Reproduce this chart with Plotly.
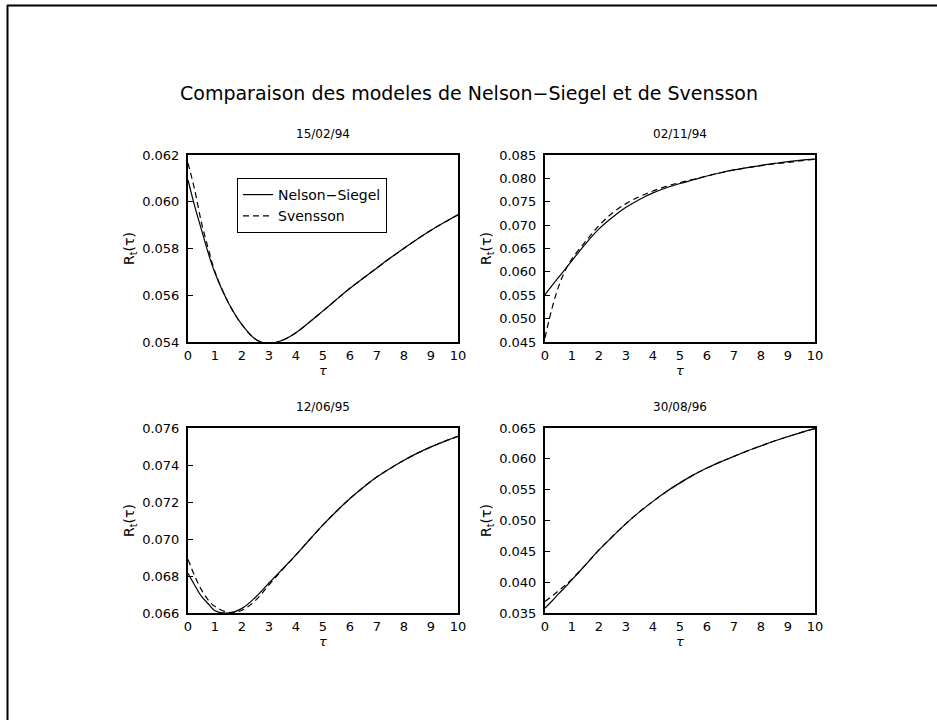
import plotly.graph_objects as go

# Maturity grid (years) at which both term-structure models are tabulated
TAU = [0, 0.25, 0.5, 0.75, 1, 1.5, 2, 2.5, 3, 3.5, 4, 4.5, 5, 5.5, 6,
       6.5, 7, 7.5, 8, 8.5, 9, 9.5, 10]

DATES = ["15/02/94", "02/11/94", "12/06/95", "30/08/96"]

# Nelson-Siegel fitted zero rates
NS_150294 = [0.06093, 0.0598, 0.0588, 0.0578, 0.05695, 0.05567, 0.05474, 0.05412,
             0.05393, 0.05408, 0.05440, 0.05485, 0.05533, 0.05582, 0.0563, 0.05674,
             0.05717, 0.0576, 0.05801, 0.05841, 0.05878, 0.05912, 0.05944]
NS_021194 = [0.0551, 0.0570, 0.0588, 0.0606, 0.0624, 0.0660, 0.0692, 0.0717,
             0.0738, 0.0755, 0.0769, 0.0780, 0.0789, 0.0797, 0.0805, 0.0812,
             0.0818, 0.0823, 0.0828, 0.0832, 0.0836, 0.0839, 0.0841]
NS_120695 = [0.06815, 0.0675, 0.0669, 0.0665, 0.06612, 0.06600, 0.06625, 0.06685,
             0.06762, 0.06838, 0.06914, 0.06996, 0.07076, 0.0715, 0.07219, 0.0728,
             0.07336, 0.07383, 0.07426, 0.07464, 0.07498, 0.07528, 0.07555]
NS_300896 = [0.0358, 0.0369, 0.0381, 0.0392, 0.0404, 0.0428, 0.04523, 0.0474,
             0.0495, 0.0514, 0.0531, 0.0547, 0.0561, 0.0574, 0.0585, 0.0595,
             0.0604, 0.0613, 0.0621, 0.0629, 0.0636, 0.0643, 0.0649]

# Svensson fitted zero rates
SV_150294 = [0.06165, 0.0605, 0.0591, 0.0580, 0.05700, 0.05567, 0.05474, 0.05412,
             0.05393, 0.05408, 0.05440, 0.05485, 0.05533, 0.05582, 0.0563, 0.05674,
             0.05717, 0.0576, 0.05801, 0.05841, 0.05878, 0.05912, 0.05944]
SV_021194 = [0.0459, 0.0520, 0.0568, 0.0603, 0.0628, 0.0665, 0.0699, 0.0726,
             0.0746, 0.0761, 0.0773, 0.0783, 0.0791, 0.0798, 0.0805, 0.0812,
             0.0818, 0.0823, 0.0827, 0.0831, 0.0834, 0.0838, 0.0841]
SV_120695 = [0.06890, 0.0680, 0.06725, 0.0667, 0.06635, 0.06603, 0.06615, 0.06668,
             0.06752, 0.06835, 0.06914, 0.06996, 0.07076, 0.0715, 0.07219, 0.0728,
             0.07336, 0.07383, 0.07426, 0.07464, 0.07498, 0.07528, 0.07555]
SV_300896 = [0.03688, 0.0377, 0.0386, 0.0395, 0.0405, 0.0428, 0.04523, 0.0474,
             0.0495, 0.0514, 0.0531, 0.0547, 0.0561, 0.0574, 0.0585, 0.0595,
             0.0604, 0.0613, 0.0621, 0.0629, 0.0636, 0.0643, 0.0649]

NS = [NS_150294, NS_021194, NS_120695, NS_300896]
SV = [SV_150294, SV_021194, SV_120695, SV_300896]

# y-axis ranges and tick steps per panel
Y_RANGES = [(0.054, 0.062), (0.045, 0.085), (0.066, 0.076), (0.035, 0.065)]
Y_STEPS = [0.002, 0.005, 0.002, 0.005]

W, H = 937, 720
FONT = "DejaVu Sans"

# panel boxes in pixels: (left, right, top, bottom)
BOXES = [(188, 458, 155, 342), (545, 815, 155, 342),
         (188, 458, 428, 613), (545, 815, 428, 613)]


def px_x(v):
    return v / W


def px_y(v):
    return 1 - v / H


fig = go.Figure()
layout = {}
annotations = []

for i in range(4):
    n = i + 1
    xa = "x" if n == 1 else f"x{n}"
    ya = "y" if n == 1 else f"y{n}"
    fig.add_trace(go.Scatter(
        x=TAU, y=NS[i], xaxis=xa, yaxis=ya, mode="lines",
        line=dict(color="black", width=1.2, shape="spline"),
        name="Nelson\u2212Siegel", showlegend=(i == 0), legendrank=1))
    fig.add_trace(go.Scatter(
        x=TAU, y=SV[i], xaxis=xa, yaxis=ya, mode="lines",
        line=dict(color="black", width=1.2, shape="spline", dash="6px,4px"),
        name="Svensson", showlegend=(i == 0), legendrank=2))

    l, r, t, b = BOXES[i]
    kx = "xaxis" if n == 1 else f"xaxis{n}"
    ky = "yaxis" if n == 1 else f"yaxis{n}"
    layout[kx] = dict(
        domain=[px_x(l), px_x(r)], anchor=ya, range=[0, 10], dtick=1, tick0=0,
        showline=True, linewidth=2, linecolor="black", mirror=True,
        ticks="", showgrid=False, zeroline=False, automargin=False,
        tickfont=dict(family=FONT, size=13, color="black"),
        title=dict(text="<i>\u03c4</i>", standoff=3,
                   font=dict(family=FONT, size=13, color="black")))
    lo, hi = Y_RANGES[i]
    layout[ky] = dict(
        domain=[px_y(b), px_y(t)], anchor=xa, range=[lo, hi],
        dtick=Y_STEPS[i], tick0=lo, tickformat=".3f",
        showline=True, linewidth=2, linecolor="black", mirror=True,
        ticks="inside", ticklen=5, tickwidth=1, tickcolor="black",
        ticklabelstandoff=4,
        showgrid=False, zeroline=False, automargin=False,
        tickfont=dict(family=FONT, size=13, color="black"),
        title=dict(text="R<sub>t</sub>(\u03c4)", standoff=4,
                   font=dict(family=FONT, size=14, color="black")))
    annotations.append(dict(
        text=DATES[i], xref="paper", yref="paper",
        x=px_x((l + r) / 2), y=px_y(t - 21), xanchor="center", yanchor="middle",
        showarrow=False, font=dict(family=FONT, size=12, color="black")))

annotations.append(dict(
    text="Comparaison des modeles de Nelson\u2212Siegel et de Svensson",
    xref="paper", yref="paper", x=px_x(469), y=px_y(93),
    xanchor="center", yanchor="middle", showarrow=False,
    font=dict(family=FONT, size=19, color="black")))

# page frame along the top and left edges
shapes = [
    dict(type="line", xref="paper", yref="paper", x0=px_x(7), x1=1.0,
         y0=px_y(5.5), y1=px_y(5.5), line=dict(color="black", width=2)),
    dict(type="line", xref="paper", yref="paper", x0=px_x(7.5), x1=px_x(7.5),
         y0=px_y(5), y1=0.0, line=dict(color="black", width=2)),
]

fig.update_layout(
    width=W, height=H, margin=dict(l=0, r=0, t=0, b=0),
    template="none", paper_bgcolor="white", plot_bgcolor="white",
    showlegend=True,
    legend=dict(x=px_x(237), y=px_y(178), xanchor="left", yanchor="top",
                bgcolor="white", bordercolor="black", borderwidth=1,
                font=dict(family=FONT, size=14, color="black"),
                tracegroupgap=0, itemwidth=30),
    annotations=annotations, shapes=shapes,
    **layout)

fig.write_html("out.html")
